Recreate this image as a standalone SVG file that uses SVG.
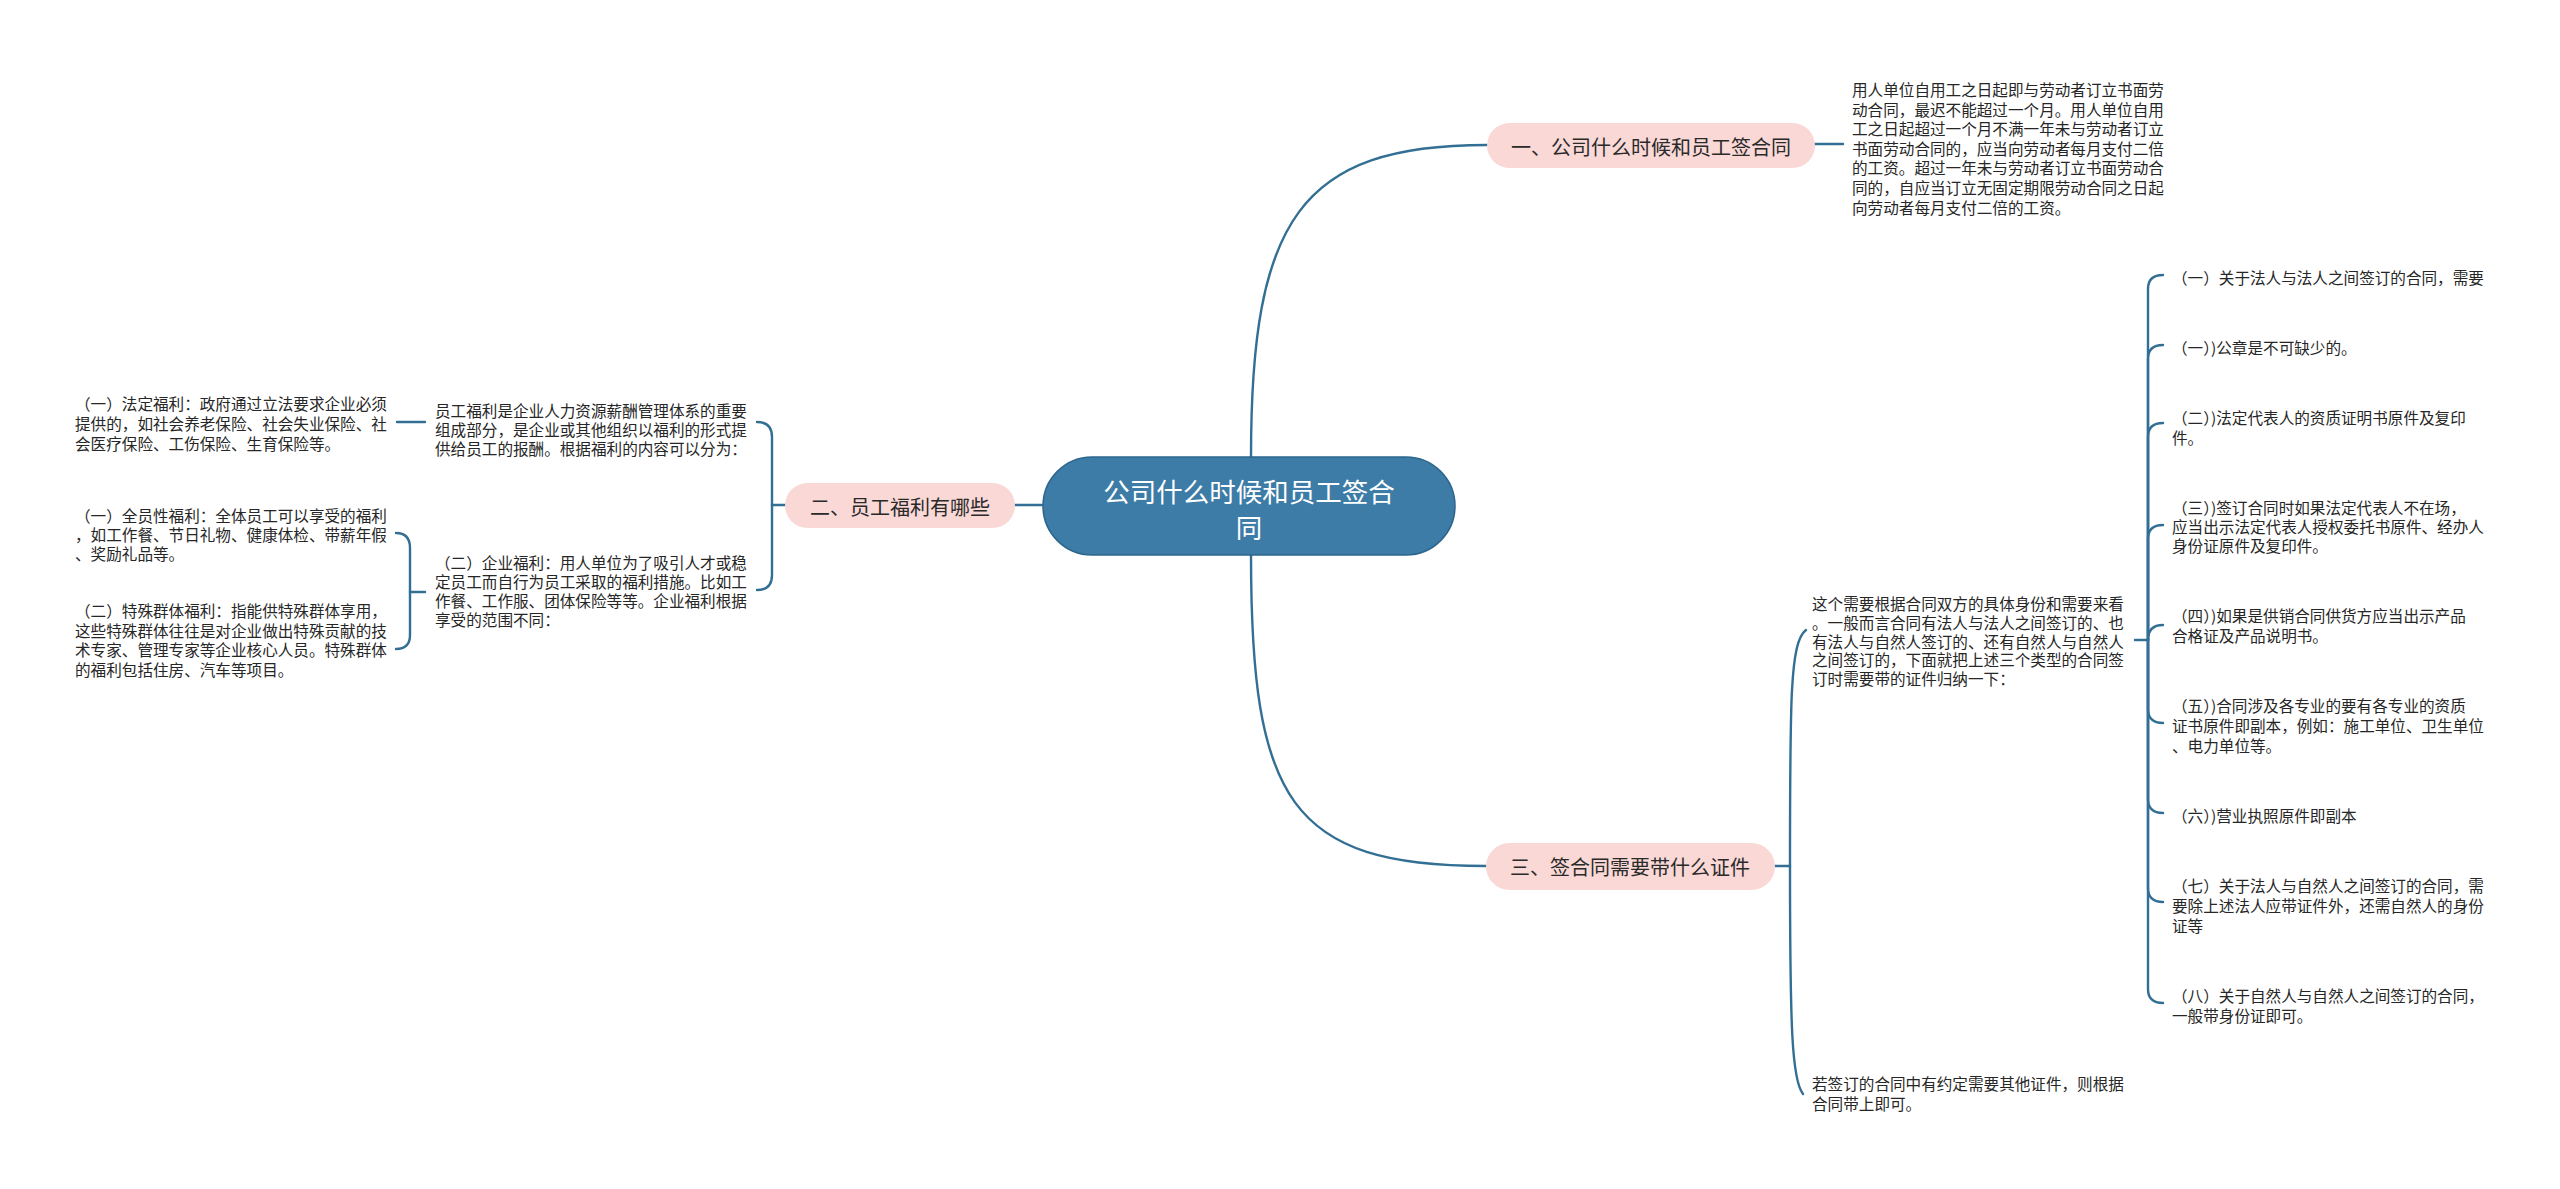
<svg xmlns="http://www.w3.org/2000/svg" width="2560" height="1189" viewBox="0 0 2560 1189">
<style>
text{font-family:"Noto Sans CJK SC","Noto Sans",sans-serif;dominant-baseline:central}
.t{font-size:15.6px;fill:#262626}
.p{font-size:20px;fill:#2a2a2a;text-anchor:middle}
.c{font-size:26.5px;fill:#ffffff;text-anchor:middle}
.pill{fill:#f9d8d6}
.ln{fill:none;stroke:#336f94;stroke-width:2.4;stroke-linecap:round}
</style>
<rect width="2560" height="1189" fill="#ffffff"/>
<g id="connectors">
<path class="ln" d="M1251,457 C1251,220 1300,145 1487,145"/>
<path class="ln" d="M1251,555 C1251,800 1290,866 1486,866"/>
<path class="ln" d="M1043,505 L1015,505"/>
<path class="ln" d="M1815,144 L1843,144"/>
<path class="ln" d="M1775,866 L1790,866"/>
<path class="ln" d="M1790,866 C1790,700 1790,642 1806,630"/>
<path class="ln" d="M1790,866 C1790,1030 1792,1080 1803,1094"/>
<path class="ln" d="M2135,640 L2148,640"/>
<path class="ln" d="M2148,640 L2148,289 Q2148,275 2163,275"/>
<path class="ln" d="M2148,640 L2148,359 Q2148,345 2163,345"/>
<path class="ln" d="M2148,640 L2148,437 Q2148,423 2163,423"/>
<path class="ln" d="M2148,640 L2148,539 Q2148,525 2163,525"/>
<path class="ln" d="M2148,640 Q2148,625 2163,625"/>
<path class="ln" d="M2148,640 L2148,709 Q2148,723 2163,723"/>
<path class="ln" d="M2148,640 L2148,799 Q2148,813 2163,813"/>
<path class="ln" d="M2148,640 L2148,888 Q2148,902 2163,902"/>
<path class="ln" d="M2148,640 L2148,989 Q2148,1003 2163,1003"/>
<path class="ln" d="M785,505 L772,505"/>
<path class="ln" d="M772,505 L772,437 Q772,422 757,422"/>
<path class="ln" d="M772,505 L772,575 Q772,590 757,590"/>
<path class="ln" d="M425,422 L397,422"/>
<path class="ln" d="M425,592 L410,592"/>
<path class="ln" d="M410,592 L410,548 Q410,533 396,533"/>
<path class="ln" d="M410,592 L410,635 Q410,649 396,649"/>
</g>
<g id="root">
<rect x="1043" y="457" width="412" height="98" rx="49" fill="#3d7ca6" stroke="#2d668d" stroke-width="1.5"/>
<text class="c" x="1249" y="490">公司什么时候和员工签合</text>
<text class="c" x="1249" y="526">同</text>
</g>
<g id="branch1">
<rect class="pill" x="1487" y="123" width="328" height="45" rx="22.5"/>
<text class="p" x="1651" y="146">一、公司什么时候和员工签合同</text>
</g>
<g id="branch1-text">
<text class="t" x="1852" y="89">用人单位自用工之日起即与劳动者订立书面劳</text>
<text class="t" x="1852" y="108.6">动合同，最迟不能超过一个月。用人单位自用</text>
<text class="t" x="1852" y="128.2">工之日起超过一个月不满一年未与劳动者订立</text>
<text class="t" x="1852" y="147.8">书面劳动合同的，应当向劳动者每月支付二倍</text>
<text class="t" x="1852" y="167.4">的工资。超过一年未与劳动者订立书面劳动合</text>
<text class="t" x="1852" y="187">同的，自应当订立无固定期限劳动合同之日起</text>
<text class="t" x="1852" y="206.6">向劳动者每月支付二倍的工资。</text>
</g>
<g id="branch2">
<rect class="pill" x="785" y="483" width="230" height="45" rx="22.5"/>
<text class="p" x="900" y="506">二、员工福利有哪些</text>
</g>
<g id="branch2-a">
<text class="t" x="435" y="410">员工福利是企业人力资源薪酬管理体系的重要</text>
<text class="t" x="435" y="429">组成部分，是企业或其他组织以福利的形式提</text>
<text class="t" x="435" y="448">供给员工的报酬。根据福利的内容可以分为：</text>
</g>
<g id="branch2-a1">
<text class="t" x="75" y="403">（一）法定福利：政府通过立法要求企业必须</text>
<text class="t" x="75" y="423">提供的，如社会养老保险、社会失业保险、社</text>
<text class="t" x="75" y="443">会医疗保险、工伤保险、生育保险等。</text>
</g>
<g id="branch2-b">
<text class="t" x="435" y="562">（二）企业福利：用人单位为了吸引人才或稳</text>
<text class="t" x="435" y="581">定员工而自行为员工采取的福利措施。比如工</text>
<text class="t" x="435" y="600">作餐、工作服、团体保险等等。企业福利根据</text>
<text class="t" x="435" y="619">享受的范围不同：</text>
</g>
<g id="branch2-b1">
<text class="t" x="75" y="515">（一）全员性福利：全体员工可以享受的福利</text>
<text class="t" x="75" y="534">，如工作餐、节日礼物、健康体检、带薪年假</text>
<text class="t" x="75" y="553">、奖励礼品等。</text>
</g>
<g id="branch2-b2">
<text class="t" x="75" y="610">（二）特殊群体福利：指能供特殊群体享用，</text>
<text class="t" x="75" y="630">这些特殊群体往往是对企业做出特殊贡献的技</text>
<text class="t" x="75" y="649">术专家、管理专家等企业核心人员。特殊群体</text>
<text class="t" x="75" y="669">的福利包括住房、汽车等项目。</text>
</g>
<g id="branch3">
<rect class="pill" x="1486" y="843" width="289" height="47" rx="23.5"/>
<text class="p" x="1630" y="866">三、签合同需要带什么证件</text>
</g>
<g id="branch3-a">
<text class="t" x="1812" y="603">这个需要根据合同双方的具体身份和需要来看</text>
<text class="t" x="1812" y="621.8">。一般而言合同有法人与法人之间签订的、也</text>
<text class="t" x="1812" y="640.6">有法人与自然人签订的、还有自然人与自然人</text>
<text class="t" x="1812" y="659.4">之间签订的，下面就把上述三个类型的合同签</text>
<text class="t" x="1812" y="678.2">订时需要带的证件归纳一下：</text>
</g>
<g id="branch3-b">
<text class="t" x="1812" y="1083">若签订的合同中有约定需要其他证件，则根据</text>
<text class="t" x="1812" y="1103">合同带上即可。</text>
</g>
<g id="item1"><text class="t" x="2172" y="277">（一）关于法人与法人之间签订的合同，需要</text></g>
<g id="item2"><text class="t" x="2172" y="347">（一）)公章是不可缺少的。</text></g>
<g id="item3">
<text class="t" x="2172" y="417">（二）)法定代表人的资质证明书原件及复印</text>
<text class="t" x="2172" y="437">件。</text>
</g>
<g id="item4">
<text class="t" x="2172" y="507">（三）)签订合同时如果法定代表人不在场，</text>
<text class="t" x="2172" y="526">应当出示法定代表人授权委托书原件、经办人</text>
<text class="t" x="2172" y="545">身份证原件及复印件。</text>
</g>
<g id="item5">
<text class="t" x="2172" y="615">（四）)如果是供销合同供货方应当出示产品</text>
<text class="t" x="2172" y="635">合格证及产品说明书。</text>
</g>
<g id="item6">
<text class="t" x="2172" y="705">（五）)合同涉及各专业的要有各专业的资质</text>
<text class="t" x="2172" y="725">证书原件即副本，例如：施工单位、卫生单位</text>
<text class="t" x="2172" y="745">、电力单位等。</text>
</g>
<g id="item7"><text class="t" x="2172" y="815">（六）)营业执照原件即副本</text></g>
<g id="item8">
<text class="t" x="2172" y="885">（七）关于法人与自然人之间签订的合同，需</text>
<text class="t" x="2172" y="905">要除上述法人应带证件外，还需自然人的身份</text>
<text class="t" x="2172" y="925">证等</text>
</g>
<g id="item9">
<text class="t" x="2172" y="995">（八）关于自然人与自然人之间签订的合同，</text>
<text class="t" x="2172" y="1015">一般带身份证即可。</text>
</g>
</svg>
